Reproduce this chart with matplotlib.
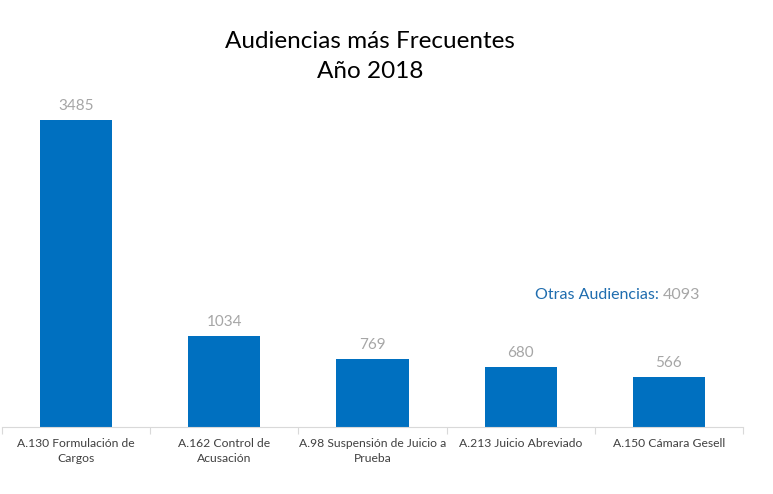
import matplotlib
matplotlib.use("Agg")
import matplotlib.pyplot as plt
import numpy as np

categories = ["A.130 Formulación de\nCargos", "A.162 Control de\nAcusación",
              "A.98 Suspensión de Juicio a\nPrueba", "A.213 Juicio Abreviado",
              "A.150 Cámara Gesell"]
values = [3485, 1034, 769, 680, 566]
otras_label = "Otras Audiencias:"
otras_value = 4093

plt.rcParams['font.family'] = ['Lato', 'DejaVu Sans']

fig = plt.figure(figsize=(7.73, 4.94), dpi=100)
ax = fig.add_axes([2/773, (494-427)/494, 741/773, 352/494])

x = np.arange(len(values))
bar_color = "#0070C0"
ax.bar(x, values, width=0.487, color=bar_color, zorder=2)
for xi, v in zip(x, values):
    ax.text(xi, v + 80, f"{v}", ha="center", va="bottom", fontsize=11, color="#A6A6A6")

ax.set_xlim(-0.5, len(values) - 0.5)
ax.set_ylim(0, 4000)
ax.set_yticks([])
ax.set_xticks(x)
ax.set_xticklabels(categories, fontsize=8.7, color="#404040", linespacing=1.45)
ax.tick_params(axis="x", which="major", length=0, pad=8)
ax.set_xticks(np.arange(len(values) + 1) - 0.5, minor=True)
ax.tick_params(axis="x", which="minor", length=5, color="#D9D9D9", width=0.8)
for s in ["top", "right", "left"]:
    ax.spines[s].set_visible(False)
ax.spines["bottom"].set_color("#D9D9D9")
ax.spines["bottom"].set_linewidth(0.8)

# Annotation
ay = 1500
t1 = ax.text(3.095, ay, otras_label + " ", fontsize=11.5, color="#1F6DAF", ha="left", va="center")
fig.canvas.draw()
bb = t1.get_window_extent()
inv = ax.transData.inverted()
x_end = inv.transform((bb.x1, bb.y0))[0]
ax.text(x_end, ay, f"{otras_value}", fontsize=11.5, color="#A6A6A6", ha="left", va="center")

fig.text(0.479, 0.915, "Audiencias más Frecuentes", ha="center", va="center", fontsize=17.5, color="black")
fig.text(0.479, 0.855, "Año 2018", ha="center", va="center", fontsize=17.5, color="black")

fig.savefig("out.png", dpi=100)
